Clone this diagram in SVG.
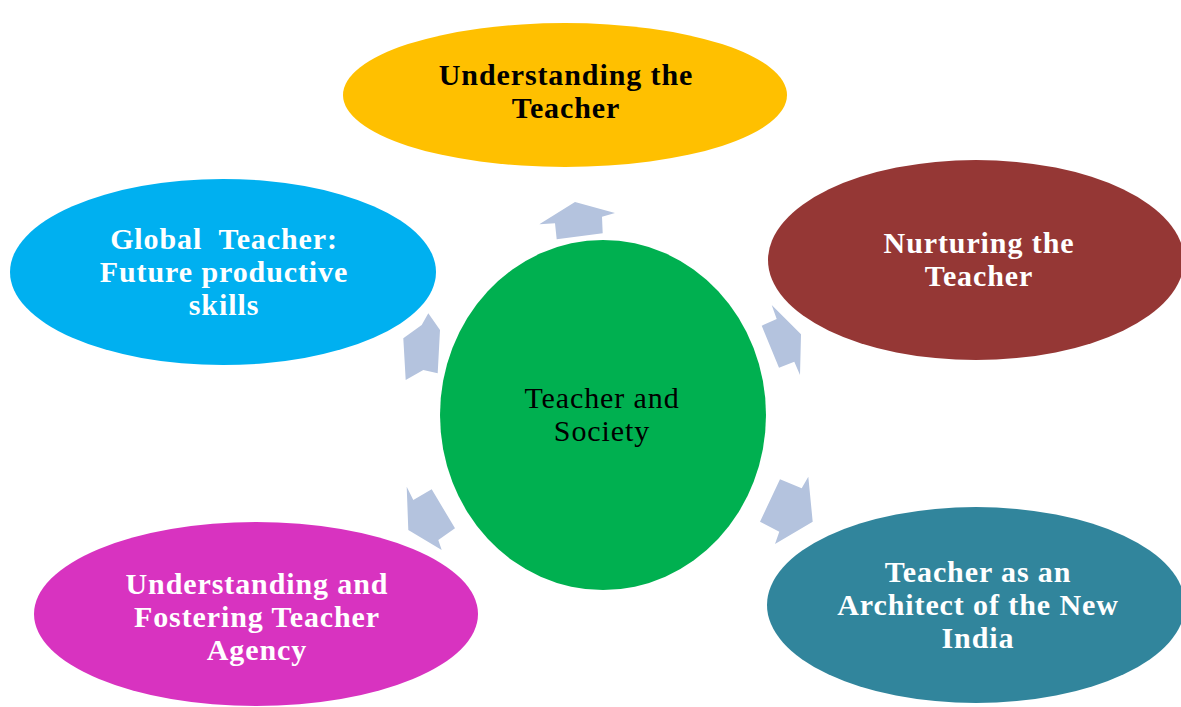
<svg xmlns="http://www.w3.org/2000/svg" width="1181" height="707" viewBox="0 0 1181 707">
<style>
.t{font-family:"Liberation Serif","Times New Roman",serif;font-size:30px;letter-spacing:0.9px;text-anchor:middle}
.b{font-weight:bold;fill:#fff}
.k{fill:#000}
.arr{fill:#B4C3DE}
</style>
<rect width="1181" height="707" fill="#fff"/>
<g id="connectors">
<polygon class="arr" points="575,202 615,213 602,216.7 602.7,233.3 556.7,239.3 555,223.3 539.3,224.3"/>
<polygon class="arr" points="771.7,305 776.7,319 761.7,325.7 779,367.7 794.3,361.7 800,375 801,334.3"/>
<polygon class="arr" points="780,479.3 801.7,488.3 808.3,476.7 812.7,521.7 775,544 779.3,531.7 760,521.7"/>
<polygon class="arr" points="406.7,486.7 413.3,500 431.7,489.3 455,528.3 438.3,540 441.7,550 408.3,530"/>
<polygon class="arr" points="428.3,313.3 440,330 437.7,373.3 423.3,370 405.7,380 403.3,338.3 421.7,325"/>
</g>
<g id="n-top">
<ellipse cx="565" cy="95" rx="222" ry="72" fill="#FFC000"/>
<text class="t" font-weight="bold" x="566" y="85">Understanding the</text>
<text class="t" font-weight="bold" x="566" y="118">Teacher</text>
</g>
<g id="n-right">
<ellipse cx="976" cy="260" rx="208" ry="100" fill="#953735"/>
<text class="t b" x="979" y="253">Nurturing the</text>
<text class="t b" x="979" y="286">Teacher</text>
</g>
<g id="n-left">
<ellipse cx="223" cy="272" rx="213" ry="93" fill="#00B0F0"/>
<text class="t b" x="224" y="249" xml:space="preserve">Global  Teacher:</text>
<text class="t b" x="224" y="282">Future productive</text>
<text class="t b" x="224" y="315">skills</text>
</g>
<g id="n-center">
<ellipse cx="603" cy="415" rx="163" ry="175" fill="#00B050"/>
<text class="t k" x="602" y="408">Teacher and</text>
<text class="t k" x="602" y="441">Society</text>
</g>
<g id="n-bottom-left">
<ellipse cx="256" cy="614" rx="222" ry="92" fill="#D833C0"/>
<text class="t b" x="257" y="594">Understanding and</text>
<text class="t b" x="257" y="627">Fostering Teacher</text>
<text class="t b" x="257" y="660">Agency</text>
</g>
<g id="n-bottom-right">
<ellipse cx="976" cy="605" rx="209" ry="98" fill="#31859C"/>
<text class="t b" x="978" y="582">Teacher as an</text>
<text class="t b" x="978" y="615">Architect of the New</text>
<text class="t b" x="978" y="648">India</text>
</g>
</svg>
